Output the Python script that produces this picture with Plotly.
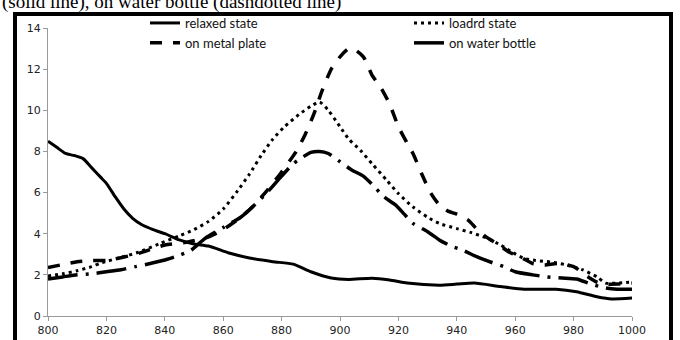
import plotly.graph_objects as go

# ---- data ----
relaxed_x = [800, 803, 806, 809, 812, 815, 818, 820, 823, 826, 829, 832, 836, 840, 845, 850,
             855, 862, 869, 877, 884, 890, 897, 903, 911, 917, 923, 934, 940, 946, 955, 963,
             974, 981, 988, 993, 1000]
relaxed_y = [8.5, 8.2, 7.9, 7.8, 7.65, 7.2, 6.75, 6.45, 5.8, 5.2, 4.75, 4.45, 4.2, 4.0, 3.7, 3.5,
             3.4, 3.06, 2.82, 2.64, 2.52, 2.15, 1.85, 1.78, 1.84, 1.75, 1.6, 1.5, 1.55, 1.6, 1.43, 1.3,
             1.3, 1.18, 0.94, 0.83, 0.87]

loaded_x = [800, 805, 810, 815, 818, 825, 831, 838, 845, 850, 855, 860, 865, 869, 873, 877,
            881, 886, 890, 893, 896, 900, 903, 907, 911, 916, 920, 925, 930, 934, 940, 945,
            950, 955, 959, 963, 967, 972, 977, 983, 988, 991, 995, 1000]
loaded_y = [1.95, 2.05, 2.2, 2.4, 2.57, 2.85, 3.1, 3.5, 3.9, 4.2, 4.6, 5.2, 6.1, 6.9, 7.8, 8.6,
            9.2, 9.8, 10.2, 10.4, 10.0, 9.2, 8.6, 8.05, 7.4, 6.6, 5.95, 5.3, 4.8, 4.5, 4.25, 4.05,
            3.8, 3.45, 3.1, 2.8, 2.7, 2.63, 2.5, 2.25, 1.9, 1.6, 1.6, 1.65]

metal_x = [800, 805, 810, 815, 820, 830, 840, 848, 855, 860, 866, 870, 875, 880, 885, 888,
           891, 894, 897, 900, 903, 905, 908, 911, 914, 917, 920, 923, 925, 928, 931, 934,
           937, 940, 944, 947, 950, 954, 958, 962, 966, 970, 975, 980, 985, 988, 991, 995, 1000]
metal_y = [2.35, 2.5, 2.64, 2.7, 2.7, 3.0, 3.45, 3.6, 3.85, 4.2, 4.8, 5.3, 6.1, 7.0, 8.0, 8.8,
           9.8, 11.0, 12.0, 12.6, 13.0, 12.95, 12.6, 11.7, 11.1, 10.3, 9.2, 8.4, 7.9, 6.9, 6.0, 5.4,
           5.1, 4.95, 4.65, 4.2, 3.85, 3.5, 3.1, 2.85, 2.55, 2.48, 2.55, 2.4, 1.9, 1.65, 1.55, 1.55, 1.6]

water_x = [800, 805, 810, 815, 820, 825, 830, 835, 840, 845, 849, 854, 860, 866, 870, 875,
           880, 884, 887, 890, 893, 896, 900, 904, 908, 911, 915, 919, 922, 925, 930, 934,
           938, 942, 947, 952, 956, 960, 966, 971, 976, 981, 986, 991, 995, 1000]
water_y = [1.8, 1.9, 2.0, 2.05, 2.15, 2.25, 2.4, 2.55, 2.72, 2.95, 3.2, 3.8, 4.3, 4.8, 5.3, 6.0,
           6.8, 7.4, 7.7, 7.95, 8.0, 7.9, 7.5, 7.1, 6.8, 6.4, 5.8, 5.4, 4.95, 4.5, 4.1, 3.7,
           3.4, 3.2, 2.87, 2.6, 2.4, 2.15, 2.0, 1.9, 1.85, 1.8, 1.55, 1.36, 1.3, 1.3]

names = ["relaxed state", "loadrd state", "on metal plate", "on water bottle"]
x_ticks = [800, 820, 840, 860, 880, 900, 920, 940, 960, 980, 1000]
y_ticks = [0, 2, 4, 6, 8, 10, 12, 14]

fig = go.Figure()
fig.add_trace(go.Scatter(x=relaxed_x, y=relaxed_y, name=names[0], mode="lines",
                         line=dict(color="black", width=3, shape="spline", smoothing=0.6),
                         legend="legend"))
fig.add_trace(go.Scatter(x=metal_x, y=metal_y, name=names[2], mode="lines",
                         line=dict(color="black", width=3.5, dash="12px,11px", shape="spline", smoothing=0.6),
                         legend="legend"))
fig.add_trace(go.Scatter(x=loaded_x, y=loaded_y, name=names[1], mode="lines",
                         line=dict(color="black", width=3, dash="3px,4px", shape="spline", smoothing=0.6),
                         legend="legend2"))
fig.add_trace(go.Scatter(x=water_x, y=water_y, name=names[3], mode="lines",
                         line=dict(color="black", width=3.5, dash="30px,8px,3px,8px", shape="spline", smoothing=0.6),
                         legend="legend2"))

W, H = 680, 340
L, R, T, B = 48, 48, 28, 24
pw, ph = W - L - R, H - T - B


def px_x(p):
    return (p - L) / pw


def px_y(p):
    return (H - B - p) / ph


legend_font = dict(family="Lato", size=13, color="#111")
fig.update_layout(
    width=W, height=H,
    margin=dict(l=L, r=R, t=T, b=B, autoexpand=False),
    paper_bgcolor="white", plot_bgcolor="white",
    showlegend=True,
    legend=dict(x=px_x(145), y=px_y(8), xanchor="left", yanchor="top",
                bgcolor="rgba(0,0,0,0)", font=legend_font, tracegroupgap=0),
    legend2=dict(x=px_x(409), y=px_y(8), xanchor="left", yanchor="top",
                 bgcolor="rgba(0,0,0,0)", font=legend_font, tracegroupgap=0),
    xaxis=dict(range=[800, 1000], tickvals=x_ticks, ticks="outside", ticklen=4,
               tickcolor="#999", showline=True, linecolor="#999", linewidth=1,
               showgrid=False, zeroline=False,
               tickfont=dict(family="DejaVu Sans", size=11, color="#222")),
    yaxis=dict(range=[0, 14], tickvals=y_ticks, ticks="outside", ticklen=4,
               tickcolor="#999", showline=True, linecolor="#999", linewidth=1,
               showgrid=False, zeroline=False,
               tickfont=dict(family="DejaVu Sans", size=11, color="#222")),
    shapes=[dict(type="rect", xref="paper", yref="paper",
                 x0=px_x(15), x1=px_x(671), y0=px_y(365), y1=px_y(14),
                 line=dict(color="black", width=4), fillcolor="rgba(0,0,0,0)", layer="above")],
    annotations=[dict(text="(solid line), on water bottle (dashdotted line)",
                      xref="paper", yref="paper", x=px_x(0), y=px_y(15),
                      xanchor="left", yanchor="bottom", showarrow=False,
                      font=dict(family="Liberation Serif", size=19, color="black"))],
)

fig.write_html("out.html", config={"displayModeBar": False},
               post_script="document.body.style.margin='0';document.body.style.overflow='hidden';")
